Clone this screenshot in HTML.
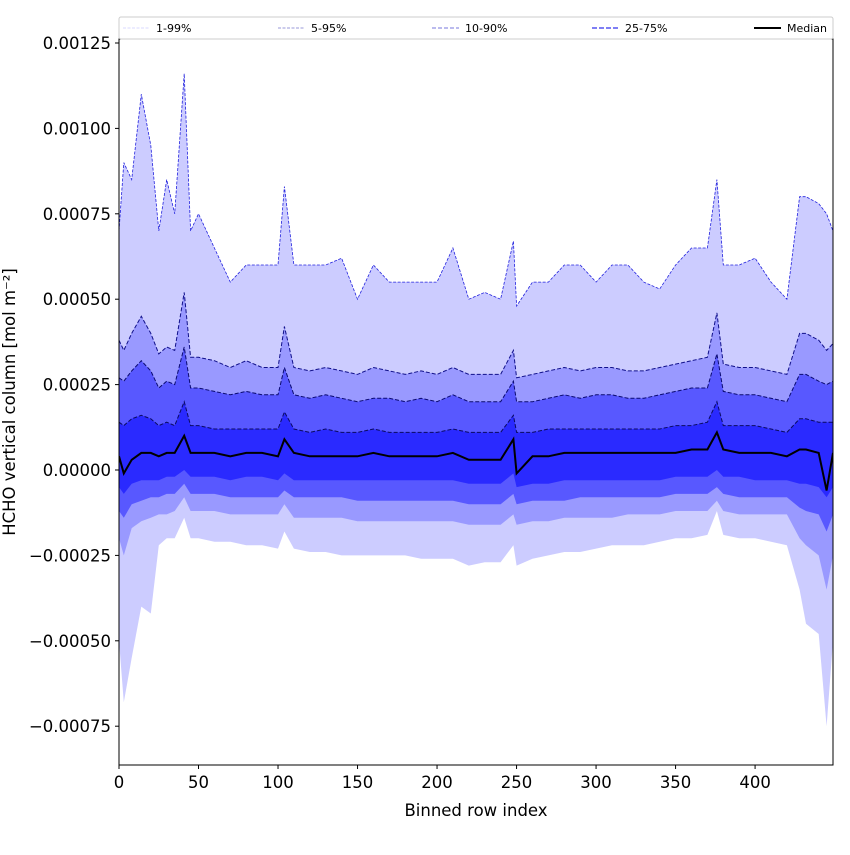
<!DOCTYPE html>
<html><head><meta charset="utf-8"><style>
body{margin:0;background:#fff}
svg{font-family:"DejaVu Sans","Liberation Sans",sans-serif}
</style></head><body>
<svg id="c" width="850" height="850"></svg>
<script>
const rowIndex=[0,3,8,14,20,25,30,35,41,45,50,60,70,80,90,100,104,110,120,130,140,150,160,170,180,190,200,210,220,230,240,248,250,260,270,280,290,300,310,320,330,340,350,360,370,376,380,390,400,410,420,428,432,440,445,449];
const p99=[7,9,8.5,11,9.5,7,8.5,7.5,11.6,7,7.5,6.5,5.5,6,6,6,8.3,6,6,6,6.2,5,6,5.5,5.5,5.5,5.5,6.5,5,5.2,5,6.7,4.8,5.5,5.5,6,6,5.5,6,6,5.5,5.3,6,6.5,6.5,8.5,6,6,6.2,5.5,5,8,8,7.8,7.5,7];
const p95=[3.8,3.5,4.0,4.5,4.0,3.4,3.6,3.5,5.2,3.3,3.3,3.2,3.0,3.2,3.0,3.0,4.2,3.0,2.9,3.0,2.9,2.8,3.0,2.9,2.8,2.9,2.8,3.0,2.8,2.8,2.8,3.5,2.7,2.8,2.9,3.0,2.9,3.0,3.0,2.9,2.9,3.0,3.1,3.2,3.3,4.6,3.1,3.0,3.0,2.9,2.8,4.0,4.0,3.8,3.5,3.7];
const p90=[2.7,2.6,2.9,3.2,2.9,2.4,2.6,2.5,3.6,2.4,2.4,2.3,2.2,2.3,2.2,2.2,3.0,2.2,2.1,2.2,2.1,2.0,2.1,2.1,2.0,2.1,2.0,2.2,2.0,2.0,2.0,2.6,2.0,2.0,2.1,2.2,2.1,2.2,2.2,2.1,2.1,2.2,2.3,2.4,2.4,3.4,2.3,2.2,2.2,2.1,2.0,2.8,2.8,2.6,2.5,2.6];
const p75=[1.4,1.3,1.5,1.6,1.5,1.3,1.4,1.3,2.0,1.3,1.3,1.2,1.2,1.2,1.2,1.2,1.7,1.2,1.1,1.2,1.1,1.1,1.2,1.1,1.1,1.1,1.1,1.2,1.1,1.1,1.1,1.6,1.1,1.1,1.2,1.2,1.2,1.2,1.2,1.2,1.2,1.2,1.3,1.3,1.4,2.0,1.3,1.3,1.3,1.2,1.1,1.5,1.5,1.4,1.4,1.4];
const p50=[0.4,-0.1,0.3,0.5,0.5,0.4,0.5,0.5,1.0,0.5,0.5,0.5,0.4,0.5,0.5,0.4,0.9,0.5,0.4,0.4,0.4,0.4,0.5,0.4,0.4,0.4,0.4,0.5,0.3,0.3,0.3,0.9,-0.1,0.4,0.4,0.5,0.5,0.5,0.5,0.5,0.5,0.5,0.5,0.6,0.6,1.1,0.6,0.5,0.5,0.5,0.4,0.6,0.6,0.5,-0.6,0.5];
const p25=[-0.5,-0.7,-0.4,-0.3,-0.3,-0.3,-0.2,-0.2,0.0,-0.2,-0.2,-0.2,-0.3,-0.2,-0.2,-0.3,-0.1,-0.3,-0.3,-0.3,-0.3,-0.3,-0.3,-0.3,-0.3,-0.3,-0.3,-0.3,-0.4,-0.4,-0.4,-0.1,-0.5,-0.4,-0.4,-0.3,-0.3,-0.3,-0.3,-0.3,-0.3,-0.3,-0.2,-0.2,-0.2,0.0,-0.2,-0.2,-0.3,-0.3,-0.3,-0.4,-0.4,-0.5,-0.8,-0.5];
const p10=[-1.2,-1.4,-1.0,-0.9,-0.8,-0.8,-0.7,-0.7,-0.4,-0.7,-0.7,-0.7,-0.8,-0.8,-0.8,-0.8,-0.6,-0.8,-0.8,-0.8,-0.8,-0.9,-0.9,-0.9,-0.9,-0.9,-0.9,-0.9,-1.0,-1.0,-1.0,-0.7,-1.0,-0.9,-0.9,-0.9,-0.8,-0.8,-0.8,-0.8,-0.8,-0.8,-0.7,-0.7,-0.7,-0.5,-0.7,-0.8,-0.8,-0.8,-0.8,-1.1,-1.2,-1.3,-1.8,-1.3];
const p5=[-2.0,-2.5,-1.7,-1.5,-1.4,-1.3,-1.3,-1.2,-0.8,-1.2,-1.2,-1.2,-1.3,-1.3,-1.3,-1.3,-1.0,-1.4,-1.4,-1.4,-1.4,-1.5,-1.5,-1.5,-1.5,-1.5,-1.5,-1.5,-1.6,-1.6,-1.6,-1.3,-1.6,-1.5,-1.5,-1.4,-1.4,-1.4,-1.4,-1.3,-1.3,-1.3,-1.2,-1.2,-1.2,-0.9,-1.2,-1.3,-1.3,-1.3,-1.3,-2.0,-2.2,-2.5,-3.5,-2.5];
const p1=[-5.0,-6.8,-5.5,-4.0,-4.2,-2.2,-2.0,-2.0,-1.4,-2.0,-2.0,-2.1,-2.1,-2.2,-2.2,-2.3,-1.8,-2.3,-2.4,-2.4,-2.5,-2.5,-2.5,-2.5,-2.5,-2.6,-2.6,-2.6,-2.8,-2.7,-2.7,-2.2,-2.8,-2.6,-2.5,-2.4,-2.4,-2.3,-2.2,-2.2,-2.2,-2.1,-2.0,-2.0,-1.9,-1.2,-1.9,-2.0,-2.0,-2.1,-2.2,-3.5,-4.5,-4.8,-7.5,-5.0];
const yTicks=[12.5,10,7.5,5,2.5,0,-2.5,-5,-7.5];
const yTickLabels=["0.00125","0.00100","0.00075","0.00050","0.00025","0.00000","\u22120.00025","\u22120.00050","\u22120.00075"];
const xTicks=[0,50,100,150,200,250,300,350,400];

const NS="http://www.w3.org/2000/svg";
const svg=document.getElementById('c');
const L=119,R=833,T=39,B=765;
const X=i=>L+(i-0)*(R-L)/449;
const Y=v=>470-v*85.4/2.5;
function el(tag,a,parent){const e=document.createElementNS(NS,tag);for(const k in a)e.setAttribute(k,a[k]);(parent||svg).appendChild(e);return e;}
const n=rowIndex.length;
function linePts(arr){let s='';for(let i=0;i<n;i++)s+=(i?'L':'M')+X(rowIndex[i]).toFixed(1)+','+Y(arr[i]).toFixed(1);return s;}
function band(lo,hi){let s='';for(let i=0;i<n;i++)s+=(i?'L':'M')+X(rowIndex[i]).toFixed(1)+','+Y(hi[i]).toFixed(1);for(let i=n-1;i>=0;i--)s+='L'+X(rowIndex[i]).toFixed(1)+','+Y(lo[i]).toFixed(1);return s+'Z';}
const clip=el('clipPath',{id:'pc'});el('rect',{x:L,y:T,width:R-L,height:B-T},clip);
const g=el('g',{'clip-path':'url(#pc)'});
let e;
e=el('path',{d:band(p1,p99),fill:'#ccccff'},g);

e=el('path',{d:band(p5,p95),fill:'#9999ff'},g);

e=el('path',{d:band(p10,p90),fill:'#5858ff'},g);

e=el('path',{d:band(p25,p75),fill:'#2a2aff'},g);

e=el('path',{d:linePts(p99),fill:'none',stroke:'#2222dd','stroke-width':0.8,'stroke-dasharray':'3,1.5'},g);

e=el('path',{d:linePts(p95),fill:'none',stroke:'#10108a','stroke-width':1,'stroke-dasharray':'4,2'},g);

e=el('path',{d:linePts(p90),fill:'none',stroke:'#0a0a70','stroke-width':1,'stroke-dasharray':'4,2'},g);

e=el('path',{d:linePts(p75),fill:'none',stroke:'#0a0a60','stroke-width':1,'stroke-dasharray':'4,2'},g);

e=el('path',{d:linePts(p50),fill:'none',stroke:'#000','stroke-width':2},g);

e=el('rect',{x:L,y:T,width:R-L,height:B-T,fill:'none',stroke:'#000','stroke-width':1});

for(let i=0;i<yTicks.length;i++){const y=Y(yTicks[i]);
 el('line',{x1:L-4,x2:L,y1:y,y2:y,stroke:'#000'});
 e=el('text',{x:L-8,y:y+6,'text-anchor':'end','font-size':16.5});e.textContent=yTickLabels[i];
 }
for(const t of xTicks){const x=X(t);
 el('line',{x1:x,x2:x,y1:B,y2:B+4,stroke:'#000'});
 e=el('text',{x:x,y:B+23,'text-anchor':'middle','font-size':16.5});e.textContent=t;
 }
e=el('text',{x:476,y:816,'text-anchor':'middle','font-size':16.5});e.textContent='Binned row index';

e=el('text',{x:0,y:0,'text-anchor':'middle','font-size':16.5,transform:'translate(15,402) rotate(-90)'});e.textContent='HCHO vertical column [mol m\u207B\u00B2]';

const lg=el('g',{});

el('rect',{x:119,y:17,width:714,height:22,fill:'#fff',stroke:'#ccc','stroke-width':1,rx:2},lg);
const legItems=[["1-99%",123,'#ccccff','3,1.5',0.8],["5-95%",278,'#7777cc','3,1.5',0.8],["10-90%",432,'#7777dd','4,2',1],["25-75%",592,'#3333ee','5,2',1.2],["Median",754,'#000','',2]];
for(const it of legItems){
 const a={x1:it[1],x2:it[1]+27,y1:28,y2:28,stroke:it[2],'stroke-width':it[4]};if(it[3])a['stroke-dasharray']=it[3];
 el('line',a,lg);
 e=el('text',{x:it[1]+33,y:32,'font-size':11},lg);e.textContent=it[0];
 }
</script>
</body></html>
